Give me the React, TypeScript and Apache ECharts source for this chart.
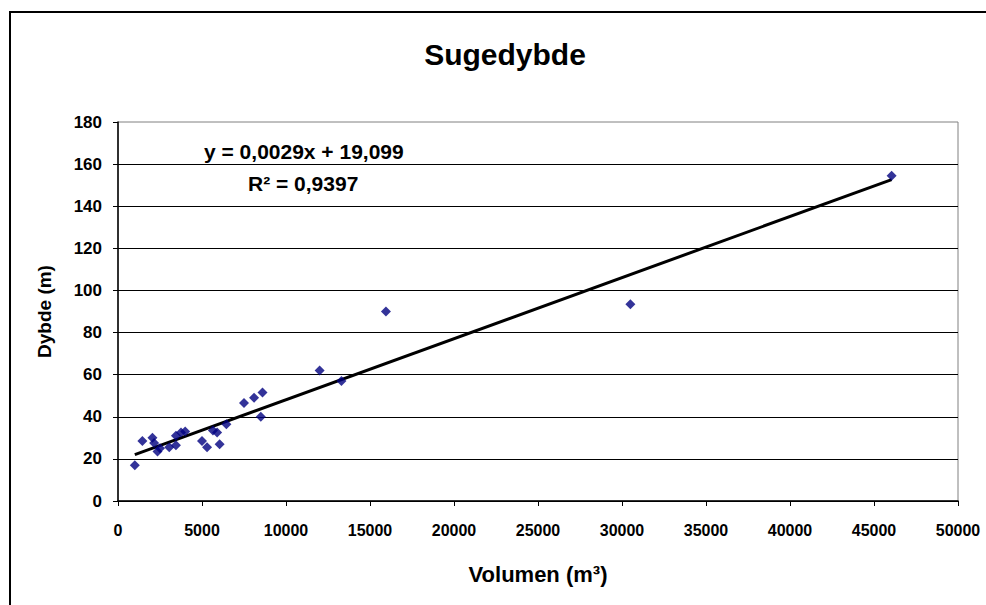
import React, { useEffect, useRef } from "react";
import * as echarts from "echarts";

const volumes = [1000, 1450, 2050, 2150, 2350, 2500, 3050, 3450, 3450, 3750, 4000, 5000, 5300, 5650, 5900, 6050, 6450, 7500, 8100, 8600, 8500, 12000, 13300, 15950, 30500, 46050];
const depths = [17, 28.5, 30, 27.5, 23.5, 25, 25.5, 26.5, 31, 32.5, 33, 28.5, 25.5, 33.5, 32.5, 27, 36.5, 46.5, 49, 51.5, 40, 62, 57, 90, 93.5, 154.5];
const slope = 0.0029;
const intercept = 19.099;
const equationText = "y = 0,0029x + 19,099";
const r2Text = "R² = 0,9397";

const FONT = '"Liberation Sans", Arial, sans-serif';

export default function App() {
  const ref = useRef<HTMLDivElement>(null);
  useEffect(() => {
    if (!ref.current) return;
    const chart = echarts.init(ref.current, null, { renderer: "svg" });
    const points = volumes.map((v, i) => [v, depths[i]]);
    const xMin = Math.min(...volumes);
    const xMax = Math.max(...volumes);
    const trend = [xMin, xMax].map((x) => [x, slope * x + intercept]);
    chart.setOption({
      animation: false,
      backgroundColor: "#ffffff",
      title: {
        text: "Sugedybde",
        left: 500,
        top: 34,
        textAlign: "center",
        textStyle: { fontFamily: FONT, fontWeight: "bold", fontSize: 30, color: "#000" },
      },
      grid: {
        left: 118,
        top: 122,
        right: 28,
        bottom: 104,
        show: true,
        borderColor: "#808080",
        borderWidth: 1,
        backgroundColor: "transparent",
      },
      xAxis: {
        type: "value",
        min: 0,
        max: 50000,
        interval: 5000,
        name: "Volumen (m³)",
        nameLocation: "middle",
        nameGap: 62,
        nameTextStyle: { fontFamily: FONT, fontWeight: "bold", fontSize: 22, color: "#000" },
        axisLine: { show: true, onZero: false, lineStyle: { color: "#000", width: 1.5 } },
        axisTick: { show: true, inside: false, length: 5, lineStyle: { color: "#000" } },
        axisLabel: {
          fontFamily: FONT,
          fontWeight: "bold",
          fontSize: 16,
          color: "#000",
          margin: 21,
          showMaxLabel: true,
          formatter: (v: number) => String(v),
        },
        splitLine: { show: false },
      },
      yAxis: {
        type: "value",
        min: 0,
        max: 180,
        interval: 20,
        name: "Dybde (m)",
        nameLocation: "middle",
        nameGap: 64,
        nameRotate: 90,
        nameTextStyle: { fontFamily: FONT, fontWeight: "bold", fontSize: 19, color: "#000" },
        axisLine: { show: true, onZero: false, lineStyle: { color: "#000", width: 1.5 } },
        axisTick: { show: true, inside: false, length: 5, lineStyle: { color: "#000" } },
        axisLabel: { fontFamily: FONT, fontWeight: "bold", fontSize: 17, color: "#000", margin: 16 },
        splitLine: { show: true, showMaxLine: false, lineStyle: { color: "#000", width: 1 } },
      },
      graphic: [
        {
          type: "rect",
          silent: true,
          shape: { x: 10, y: 12, width: 1000, height: 700 },
          style: { fill: "none", stroke: "#000", lineWidth: 2 },
        },
        {
          type: "text",
          x: 204,
          y: 151,
          style: { text: equationText, fontFamily: FONT, fontWeight: "bold", fontSize: 21, fill: "#000", align: "left", verticalAlign: "middle" },
        },
        {
          type: "text",
          x: 248,
          y: 183,
          style: { text: r2Text, fontFamily: FONT, fontWeight: "bold", fontSize: 21, fill: "#000", align: "left", verticalAlign: "middle" },
        },
      ],
      series: [
        {
          type: "line",
          data: trend,
          showSymbol: false,
          symbol: "none",
          lineStyle: { color: "#000", width: 3 },
          z: 2,
        },
        {
          type: "scatter",
          data: points,
          symbol: "diamond",
          symbolSize: 10,
          itemStyle: { color: "#000080" },
          z: 3,
        },
      ],
    });
    return () => chart.dispose();
  }, []);
  return (
    <div
      ref={ref}
      style={{ position: "fixed", left: 0, top: 0, width: 986, height: 605, background: "#fff" }}
    />
  );
}
